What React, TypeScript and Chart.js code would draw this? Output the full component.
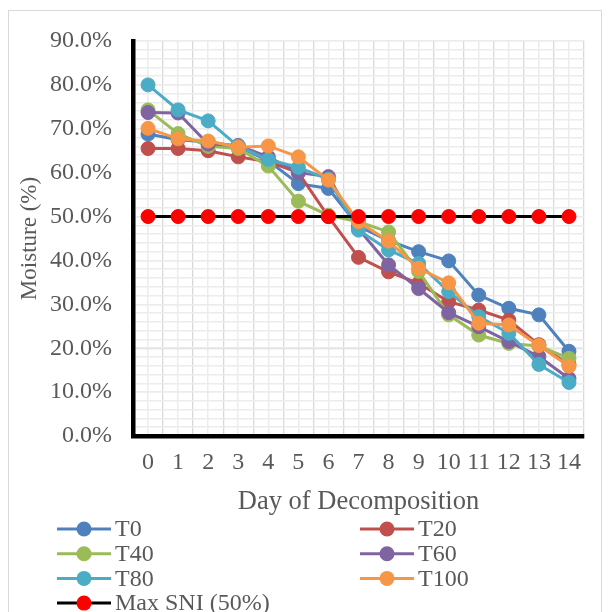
import React, { useEffect, useRef } from 'react';
import { Chart, registerables } from 'chart.js';

Chart.register(...registerables);

const days = ['0', '1', '2', '3', '4', '5', '6', '7', '8', '9', '10', '11', '12', '13', '14'];
const t0 = [68.8, 67.5, 67.0, 66.0, 62.7, 57.5, 56.4, 47.8, 44.5, 42.0, 39.9, 32.1, 29.1, 27.6, 19.3];
const t20 = [65.5, 65.5, 65.0, 63.6, 62.5, 60.0, 50.0, 40.7, 37.4, 34.8, 30.6, 28.7, 26.4, 20.8, 16.3];
const t40 = [74.3, 68.9, 66.0, 65.5, 61.5, 53.5, 50.3, 48.8, 46.5, 37.5, 27.6, 23.0, 21.1, 20.5, 17.7];
const t60 = [73.7, 73.6, 66.5, 66.2, 63.6, 60.0, 59.1, 47.2, 39.0, 33.6, 28.1, 24.9, 21.5, 18.1, 13.1];
const t80 = [80.0, 74.3, 71.8, 66.0, 63.0, 61.2, 58.5, 46.9, 42.4, 39.3, 32.9, 27.2, 23.4, 16.3, 12.2];
const t100 = [70.1, 67.7, 67.2, 65.8, 66.1, 63.6, 58.3, 48.8, 44.4, 38.2, 34.9, 25.7, 25.3, 20.6, 15.9];
const maxSni = [50, 50, 50, 50, 50, 50, 50, 50, 50, 50, 50, 50, 50, 50, 50];

const seriesNames = ['T0', 'T20', 'T40', 'T60', 'T80', 'T100', 'Max SNI (50%)'];
const seriesData = [t0, t20, t40, t60, t80, t100, maxSni];
const lineColors = ['#4F81BD', '#C0504D', '#9BBB59', '#8064A2', '#4BACC6', '#F79646', '#000000'];
const markerColors = ['#4F81BD', '#C0504D', '#9BBB59', '#8064A2', '#4BACC6', '#F79646', '#FF0000'];

const FONT = "'Liberation Serif', 'Times New Roman', serif";
const TEXT = '#595959';

const frame = {
  id: 'frame',
  beforeDraw(chart: any) {
    const ctx = chart.ctx;
    ctx.save();
    ctx.fillStyle = '#ffffff';
    ctx.fillRect(0, 0, chart.width, chart.height);
    ctx.strokeStyle = '#d9d9d9';
    ctx.lineWidth = 1;
    ctx.strokeRect(8.5, 10.5, 593, 620);
    ctx.restore();
  },
};

const gridLegend = {
  id: 'gridLegend',
  afterDraw(chart: any) {
    const ctx = chart.ctx;
    ctx.save();
    chart.data.datasets.forEach((ds: any, i: number) => {
      const col = i % 2;
      const row = Math.floor(i / 2);
      const x0 = col === 0 ? 57 : 360;
      const y = 529 + row * 24.7;
      ctx.strokeStyle = ds.borderColor;
      ctx.lineWidth = 3;
      ctx.beginPath();
      ctx.moveTo(x0, y);
      ctx.lineTo(x0 + 54, y);
      ctx.stroke();
      ctx.fillStyle = ds.pointBackgroundColor;
      ctx.beginPath();
      ctx.arc(x0 + 27, y, 7.5, 0, Math.PI * 2);
      ctx.fill();
      ctx.fillStyle = TEXT;
      ctx.font = `24px ${FONT}`;
      ctx.textBaseline = 'middle';
      ctx.textAlign = 'left';
      ctx.fillText(ds.label, x0 + 58, y + 1);
    });
    ctx.restore();
  },
};

export default function App() {
  const ref = useRef<HTMLCanvasElement | null>(null);

  useEffect(() => {
    document.documentElement.style.overflow = 'hidden';
    const canvas = ref.current;
    if (!canvas) return;
    const datasets = seriesNames.map((name, i) => ({
      label: name,
      data: seriesData[i],
      borderColor: lineColors[i],
      backgroundColor: markerColors[i],
      pointBackgroundColor: markerColors[i],
      pointBorderColor: markerColors[i],
      pointBorderWidth: 1,
      pointRadius: 7,
      borderWidth: 3,
      tension: 0,
      fill: false,
      order: seriesNames.length - i,
    }));
    const chart = new Chart(canvas, {
      type: 'line',
      data: { labels: days, datasets },
      plugins: [frame, gridLegend],
      options: {
        animation: false,
        responsive: false,
        devicePixelRatio: 1,
        layout: { padding: { left: 0, top: 41, right: 26, bottom: 86 } },
        plugins: { legend: { display: false }, tooltip: { enabled: false } },
        scales: {
          x: {
            type: 'category',
            offset: true,
            z: 0,
            grid: { offset: true, color: '#d9d9d9', lineWidth: 1.3, drawTicks: false },
            border: { display: true, color: '#000000', width: 4.5 },
            ticks: { color: TEXT, font: { family: FONT, size: 24 }, padding: 12, maxRotation: 0, autoSkip: false },
            title: {
              display: true,
              text: 'Day of Decomposition',
              color: TEXT,
              font: { family: FONT, size: 26.5 },
              padding: { top: 0, bottom: 8 },
            },
            afterFit: (s: any) => { s.height = 90; },
          },
          x2: {
            type: 'category',
            labels: days,
            position: 'bottom',
            offset: true,
            z: -1,
            grid: { offset: false, color: '#ececec', lineWidth: 1.5, drawTicks: false },
            border: { display: false },
            ticks: { display: false },
            afterFit: (s: any) => { s.height = 0; },
          },
          y: {
            type: 'linear',
            position: 'left',
            min: 0,
            max: 90,
            z: 0,
            ticks: {
              stepSize: 10,
              autoSkip: false,
              padding: 21,
              color: TEXT,
              font: { family: FONT, size: 24 },
              callback: (v: any) => Number(v).toFixed(1) + '%',
            },
            grid: { color: '#d9d9d9', lineWidth: 1.3, drawTicks: false },
            border: { display: true, color: '#000000', width: 4.5 },
            title: {
              display: true,
              text: 'Moisture (%)',
              color: TEXT,
              font: { family: FONT, size: 23 },
              padding: { top: 16, bottom: 0 },
            },
            afterFit: (s: any) => { s.width = 133; },
          },
          y2: {
            type: 'linear',
            position: 'left',
            min: 0,
            max: 90,
            z: -1,
            ticks: { stepSize: 2, display: false, autoSkip: false },
            grid: { color: '#ececec', lineWidth: 1.5, drawTicks: false },
            border: { display: false },
            afterFit: (s: any) => { s.width = 0; },
          },
        },
      } as any,
    });
    return () => chart.destroy();
  }, []);

  return (
    <div style={{ position: 'fixed', left: 0, top: 0, width: 610, height: 612, background: '#fff' }}>
      <canvas ref={ref} width={610} height={612} style={{ display: 'block' }} />
    </div>
  );
}
